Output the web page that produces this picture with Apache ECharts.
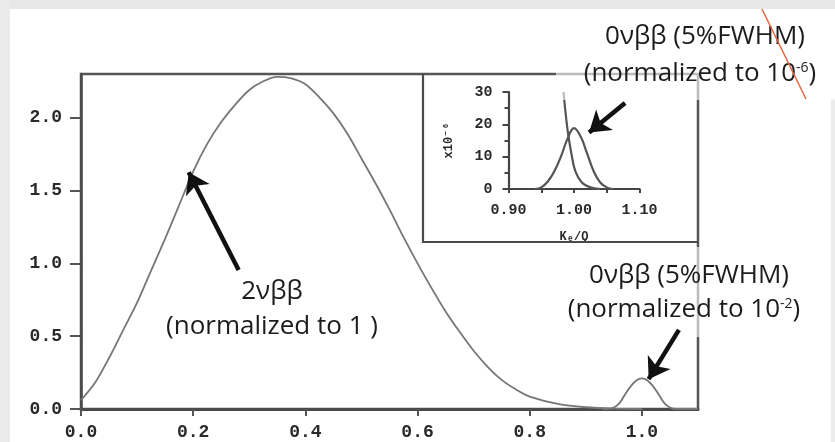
<!DOCTYPE html>
<html>
<head>
<meta charset="utf-8">
<script src="https://cdn.jsdelivr.net/npm/echarts@6/dist/echarts.min.js"></script>
<style>
  html, body { margin: 0; padding: 0; background: #ffffff; }
  #chart { width: 835px; height: 442px; }
</style>
</head>
<body>
<div id="chart"></div>
<script>
// Summed-electron energy spectrum, Ke/Q on x
// 2νββ continuum (normalized to 1)
const spectrumX = [0.000, 0.025, 0.050, 0.075, 0.100, 0.125, 0.150, 0.175, 0.200, 0.225, 0.250, 0.275, 0.300, 0.325, 0.350, 0.375, 0.400, 0.425, 0.450, 0.475, 0.500, 0.525, 0.550, 0.575, 0.600, 0.625, 0.650, 0.675, 0.700, 0.725, 0.750, 0.775, 0.800, 0.850, 0.900, 0.950, 1.000];
const spectrumY = [0.06, 0.18, 0.35, 0.54, 0.73, 0.95, 1.17, 1.40, 1.63, 1.82, 1.97, 2.09, 2.19, 2.25, 2.28, 2.27, 2.23, 2.14, 2.03, 1.89, 1.72, 1.55, 1.37, 1.18, 1.00, 0.83, 0.67, 0.53, 0.40, 0.29, 0.20, 0.135, 0.085, 0.035, 0.012, 0.003, 0.0];

// 0νββ line, 5% FWHM, normalized to 1e-2
const peakX = [0.93, 0.94, 0.95, 0.96, 0.97, 0.98, 0.99, 1.00, 1.01, 1.02, 1.03, 1.04, 1.05, 1.06, 1.07, 1.10];
const peakY = [0.0, 0.0, 0.01, 0.04, 0.10, 0.155, 0.195, 0.21, 0.195, 0.155, 0.10, 0.04, 0.01, 0.0, 0.0, 0.0];

// Close-up around the endpoint (units of 1e-6)
const tailX = [0.984, 0.990, 0.996, 1.002, 1.012, 1.025, 1.040];
const tailY = [30, 18.5, 11, 5.5, 2, 0.5, 0];
const zoomPeakX = [0.94, 0.95, 0.96, 0.97, 0.98, 0.99, 1.00, 1.01, 1.02, 1.03, 1.04, 1.05, 1.06];
const zoomPeakY = [0, 0.5, 2.3, 5.5, 10, 15.5, 18.8, 16.3, 11, 5.5, 2, 0.5, 0];

// Tick positions
const mainXTicks = [0, 0.2, 0.4, 0.6, 0.8, 1.0];
const mainYTicks = [0, 0.5, 1.0, 1.5, 2.0];

const zip = (xs, ys) => xs.map((x, i) => [x, ys[i]]);

const monoBold = '"Liberation Mono", "DejaVu Sans Mono", monospace';
const noteFont = '"Open Sans", "Noto Sans", sans-serif';
const noteColor = '#1c1c1c';
const tickColor = '#2a2a2a';

function note(text, x, y, sup) {
  const rich = {
    n: { fontFamily: noteFont, fontSize: 26, fill: noteColor, color: noteColor },
    s: { fontFamily: noteFont, fontSize: 14, fill: noteColor, color: noteColor, verticalAlign: 'top' }
  };
  return {
    type: 'text', x: x, y: y, z: 60,
    style: {
      text: sup ? '{n|' + text + '}{s|' + sup + '}{n|)}' : '{n|' + text + '}',
      rich: rich,
      align: 'center', verticalAlign: 'middle'
    }
  };
}

const arrowLine = (from, to) => ({
  silent: true,
  animation: false,
  z: 90,
  symbol: ['none', 'arrow'],
  symbolSize: 20,
  label: { show: false },
  emphasis: { disabled: true },
  lineStyle: { color: '#111', width: 4.5, type: 'solid', opacity: 1 },
  itemStyle: { color: '#111' },
  data: [[{ coord: from }, { coord: to }]]
});

const chart = echarts.init(document.getElementById('chart'), null, { renderer: 'canvas' });

chart.setOption({
  animation: false,
  backgroundColor: '#ffffff',
  grid: [
    { left: 81, top: 74, width: 617, height: 335, show: true, borderColor: '#555', borderWidth: 2.5, backgroundColor: 'transparent' },
    { left: 508.5, top: 92, width: 131, height: 97, show: false }
  ],
  xAxis: [
    {
      gridIndex: 0, type: 'value', min: 0, max: 1.1,
      axisLine: { show: true, onZero: false, lineStyle: { color: '#4a4a4a', width: 3 } },
      axisTick: { show: true, customValues: mainXTicks, length: 7, lineStyle: { color: '#555', width: 2 } },
      axisLabel: { customValues: mainXTicks, formatter: v => v.toFixed(1), margin: 14, color: tickColor, fontFamily: monoBold, fontWeight: 'bold', fontSize: 18 },
      splitLine: { show: false }
    },
    {
      gridIndex: 1, type: 'value', min: 0.9, max: 1.1, interval: 0.1,
      name: 'Kₑ/Q', nameLocation: 'middle', nameGap: 42,
      nameTextStyle: { color: tickColor, fontFamily: monoBold, fontWeight: 'bold', fontSize: 12 },
      axisLine: { show: true, onZero: false, lineStyle: { color: '#444', width: 2.2 } },
      axisTick: { show: true, length: 4, lineStyle: { color: '#444', width: 2 } },
      minorTick: { show: true, splitNumber: 2, length: 4, lineStyle: { color: '#444', width: 2 } },
      axisLabel: { formatter: v => v.toFixed(2), margin: 14, color: tickColor, fontFamily: monoBold, fontWeight: 'bold', fontSize: 15 },
      splitLine: { show: false }
    }
  ],
  yAxis: [
    {
      gridIndex: 0, type: 'value', min: 0, max: 2.3,
      axisLine: { show: true, onZero: false, lineStyle: { color: '#4a4a4a', width: 2.5 } },
      axisTick: { show: true, customValues: mainYTicks, length: 11, lineStyle: { color: '#555', width: 2 } },
      axisLabel: { customValues: mainYTicks, formatter: v => v.toFixed(1), margin: 19, color: tickColor, fontFamily: monoBold, fontWeight: 'bold', fontSize: 18 },
      splitLine: { show: false }
    },
    {
      gridIndex: 1, type: 'value', min: 0, max: 30, interval: 10,
      name: 'x10⁻⁶', nameLocation: 'middle', nameGap: 54, nameRotate: 90,
      nameTextStyle: { color: tickColor, fontFamily: monoBold, fontWeight: 'bold', fontSize: 12 },
      axisLine: { show: true, onZero: false, lineStyle: { color: '#444', width: 2.2 } },
      axisTick: { show: true, length: 6, lineStyle: { color: '#444', width: 2 } },
      minorTick: { show: true, splitNumber: 2, length: 4, lineStyle: { color: '#444', width: 2 } },
      axisLabel: { margin: 16, color: tickColor, fontFamily: monoBold, fontWeight: 'bold', fontSize: 15 },
      splitLine: { show: false }
    }
  ],
  series: [
    {
      name: '2νββ', type: 'line', xAxisIndex: 0, yAxisIndex: 0,
      data: zip(spectrumX, spectrumY), smooth: 0.3, showSymbol: false,
      lineStyle: { color: '#767676', width: 1.8 }, z: 70,
      markLine: arrowLine([0.281, 0.955], [0.192, 1.625])
    },
    {
      name: '0νββ', type: 'line', xAxisIndex: 0, yAxisIndex: 0,
      data: zip(peakX, peakY), smooth: 0.4, showSymbol: false,
      lineStyle: { color: '#767676', width: 1.8 }, z: 70,
      markLine: arrowLine([1.066, 0.543], [1.012, 0.205])
    },
    {
      name: '2νββ endpoint', type: 'line', xAxisIndex: 1, yAxisIndex: 1,
      data: zip(tailX, tailY), smooth: 0.4, showSymbol: false,
      lineStyle: { color: '#555', width: 2.2 }, z: 3
    },
    {
      name: '0νββ close-up', type: 'line', xAxisIndex: 1, yAxisIndex: 1,
      data: zip(zoomPeakX, zoomPeakY), smooth: 0.4, showSymbol: false,
      lineStyle: { color: '#555', width: 2.2 }, z: 70,
      markLine: arrowLine([1.078, 26.6], [1.023, 17.5])
    }
  ],
  graphic: [
    // slide background edges
    { type: 'rect', z: -10, shape: { x: 0, y: 0, width: 835, height: 9 }, style: { fill: '#e7e7e7' } },
    { type: 'rect', z: -10, shape: { x: 0, y: 0, width: 10, height: 442 }, style: { fill: '#ebebeb' } },
    { type: 'rect', z: -10, shape: { x: 831, y: 98, width: 4, height: 344 }, style: { fill: '#ececec' } },
    // frame of the close-up panel
    { type: 'polyline', z: 40, shape: { points: [[423, 74], [423, 242], [698, 242]] }, style: { stroke: '#4a4a4a', lineWidth: 2.2, fill: null } },
    // translucent backdrops behind the 0νββ notes
    { type: 'rect', z: 50, shape: { x: 556, y: 18, width: 279, height: 82 }, style: { fill: 'rgba(255,255,255,0.6)' } },
    { type: 'rect', z: 50, shape: { x: 560, y: 247, width: 262, height: 90 }, style: { fill: 'rgba(255,255,255,0.6)' } },
    // notes
    note('2νββ', 272, 292),
    note('(normalized to 1 )', 272, 327),
    note('0νββ (5%FWHM)', 705, 37),
    note('(normalized to 10', 700, 74, '-6'),
    note('0νββ (5%FWHM)', 689, 276),
    note('(normalized to 10', 684, 310, '-2'),
    // red stroke across the top note
    { type: 'line', z: 80, shape: { x1: 762, y1: 9, x2: 806, y2: 99 }, style: { stroke: '#e8643f', lineWidth: 1.5 } }
  ]
});
</script>
</body>
</html>
